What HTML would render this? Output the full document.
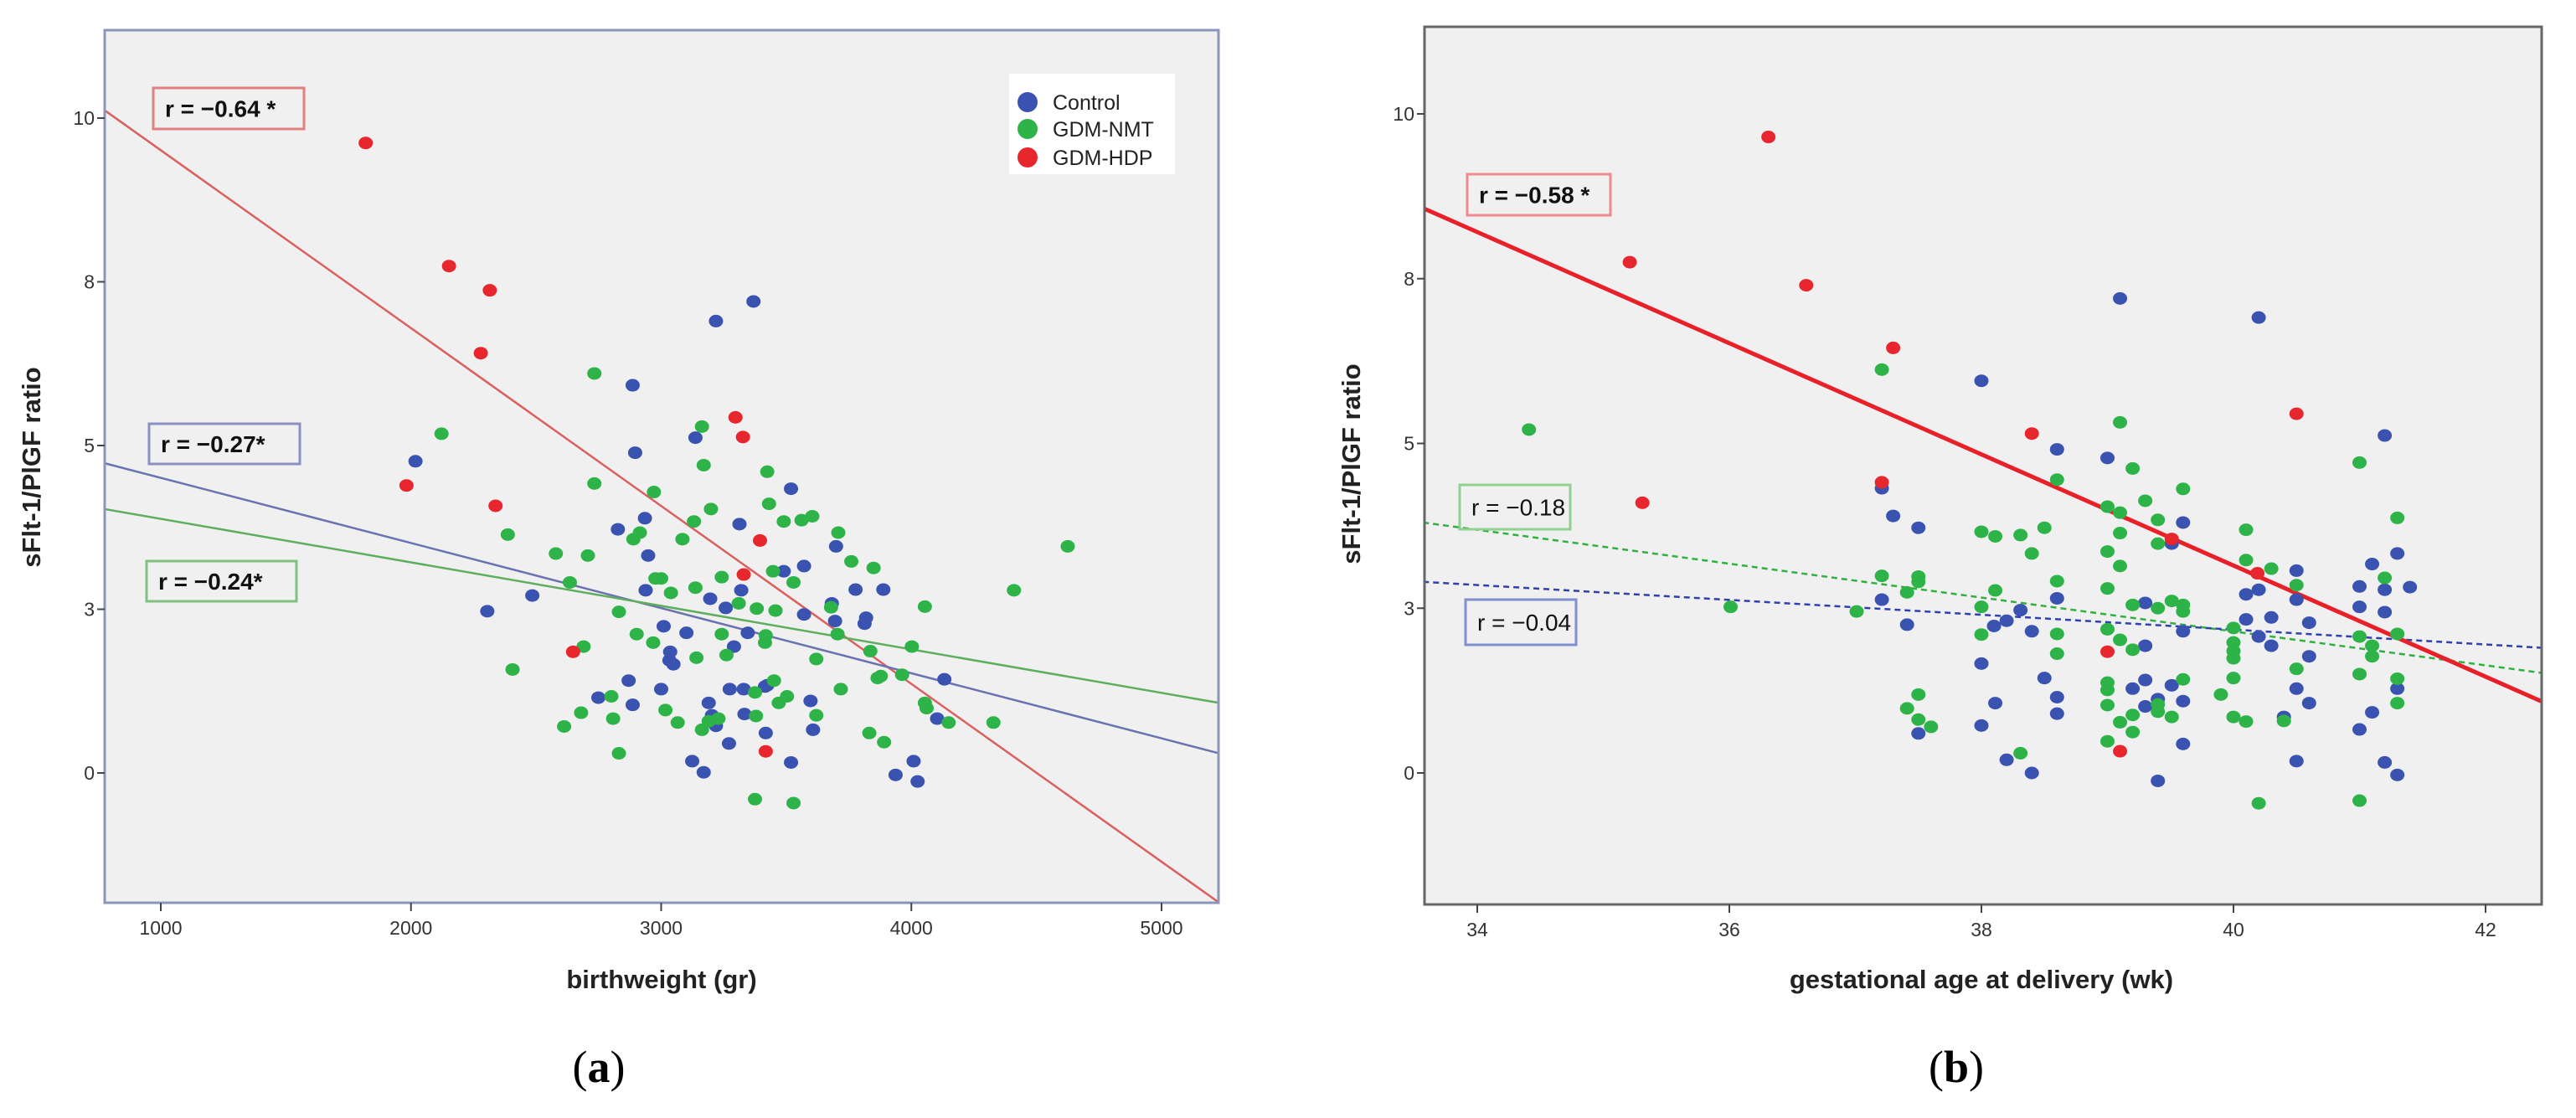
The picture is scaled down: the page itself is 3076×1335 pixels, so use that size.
<!DOCTYPE html>
<html><head><meta charset="utf-8">
<style>
html,body{margin:0;padding:0;background:#fff;}
svg{display:block;}
text{font-family:"Liberation Sans",Arial,sans-serif;}
</style></head>
<body>
<svg id="fig" width="3076" height="1335" viewBox="0 0 3076 1335" xmlns="http://www.w3.org/2000/svg">
</svg>
<script>
// ---------- Panel A data ----------
const aControlX=[2018,2305,2485,2886,2896,2827,2935,2948,2938,2870,2749,2886,3000,3010,3036,3049,3101,3137,3219,3369,3196,3258,3313,3320,3291,3346,3124,3170,3271,3274,3330,3219,3333,3415,3418,3519,3571,3571,3597,3607,3519,3699,3682,3695,3777,3813,3888,3819,3937,4009,4025,4103,4132,3190,3203,3033,3490,3424];
const aControlY=[4.76,2.47,2.71,5.92,4.89,3.72,3.89,3.32,2.79,1.41,1.15,1.04,1.28,2.24,1.85,1.66,2.14,5.12,6.90,7.20,2.66,2.52,3.80,2.79,1.93,2.14,0.18,0.01,0.45,1.28,1.28,0.72,0.90,1.32,0.61,4.34,3.16,2.42,1.10,0.66,0.16,3.46,2.59,2.32,2.80,2.28,2.80,2.37,-0.03,0.18,-0.13,0.83,1.43,1.07,0.88,1.72,3.08,1.34];
const aNmtX=[2122,2387,2406,2579,2635,2707,2733,2733,2690,2680,2612,2801,2808,2831,2831,2902,2889,2915,2971,2977,3000,2968,3017,3066,3039,3085,3131,3163,3170,3199,3137,3141,3242,3242,3261,3190,3229,3310,3382,3457,3431,3424,3447,3490,3561,3604,3529,3418,3415,3379,3375,3375,3451,3470,3503,3529,3620,3679,3705,3708,3760,3849,3836,3865,3878,3832,3891,3963,4002,4054,4061,4149,4328,4054,4410,4625,3620,3718,3163];
const aNmtY=[5.18,3.64,1.58,3.35,2.91,3.32,4.42,6.10,1.93,0.92,0.71,1.17,0.83,0.30,2.46,2.12,3.57,3.67,4.29,2.97,2.97,1.99,0.96,0.77,2.75,3.57,3.84,5.29,4.70,4.03,2.83,1.76,2.99,2.12,1.80,0.79,0.83,2.59,2.51,2.48,4.11,4.60,3.08,3.84,3.86,3.92,2.91,2.10,1.99,0.87,1.23,-0.40,1.41,1.07,1.17,-0.46,1.74,2.53,2.12,3.67,3.23,3.13,1.86,1.45,1.48,0.61,0.47,1.50,1.93,1.07,0.99,0.77,0.77,2.54,2.79,3.46,0.88,1.28,0.66];
const aHdpX=[1819,2152,2315,2279,1982,2338,2648,3297,3327,3395,3330,3418];
const aHdpY=[9.62,7.74,7.37,6.41,4.39,4.08,1.85,5.43,5.13,3.55,3.03,0.33];
const aFitHdp=[775,10.12,5230,-1.98];
const aFitControl=[775,4.73,5230,0.30];
const aFitNmt=[775,4.03,5230,1.07];
const aXTicks=[1000,2000,3000,4000,5000];
const aXTickLabels=["1000","2000","3000","4000","5000"];
// ---------- Panel B data ----------
const bControlX=[37.21,37.30,37.50,37.21,37.41,37.50,38.00,38.00,38.00,38.10,38.20,38.31,38.11,38.20,38.40,38.40,38.50,38.60,38.60,38.60,38.60,39.00,39.10,39.30,39.30,39.30,39.20,39.30,39.40,39.40,39.51,39.51,39.60,39.60,39.60,39.60,40.10,40.10,40.20,40.20,40.20,40.30,40.30,40.50,40.50,40.50,40.50,40.60,40.60,40.60,40.40,41.00,41.00,41.00,41.10,41.10,41.20,41.20,41.20,41.20,41.30,41.30,41.30,41.40];
const bControlY=[4.32,3.90,3.72,2.63,2.25,0.60,5.95,1.66,0.72,2.23,2.31,2.47,1.06,0.20,2.15,0.00,1.44,4.91,2.65,1.15,0.90,4.78,7.20,2.58,1.93,1.41,1.28,1.01,1.12,-0.12,3.48,1.33,3.80,2.15,1.09,0.44,2.71,2.33,6.91,2.78,2.07,2.36,1.93,3.07,2.63,1.28,0.18,2.28,1.77,1.06,0.85,2.83,2.52,0.66,3.17,0.92,5.12,2.78,2.44,0.16,3.33,1.28,-0.03,2.82];
const bNmtX=[34.41,36.01,37.01,37.21,37.21,37.41,37.50,37.50,37.50,37.41,37.50,37.60,38.00,38.11,38.00,38.11,38.00,38.31,38.40,38.50,38.60,38.60,38.60,38.60,38.31,39.00,39.10,39.10,39.00,39.10,39.00,39.10,39.20,39.30,39.40,39.40,39.60,39.20,39.40,39.51,39.60,39.60,39.00,39.10,39.20,39.00,39.00,39.00,39.10,39.20,39.20,39.00,39.40,39.40,39.51,39.60,39.90,40.00,40.10,40.00,40.00,40.00,40.00,40.00,40.10,40.10,40.30,40.50,40.50,40.40,41.00,41.00,41.00,41.10,41.10,41.20,41.30,41.30,41.30,41.30,40.20,41.00];
const bNmtY=[5.21,2.52,2.45,6.12,2.99,2.74,2.98,2.90,1.19,0.98,0.81,0.70,3.66,3.59,2.52,2.77,2.10,3.61,3.33,3.72,4.45,2.91,2.11,1.81,0.30,4.04,3.95,3.64,3.36,3.14,2.80,5.32,4.62,4.13,3.84,3.48,4.31,2.55,2.50,2.61,2.55,2.45,2.18,2.02,1.87,1.37,1.26,1.03,0.77,0.88,0.62,0.48,1.04,0.93,0.85,1.42,1.19,0.85,0.78,2.20,1.98,1.85,1.74,1.44,3.69,3.23,3.10,2.85,1.58,0.79,4.71,2.07,1.50,1.93,1.77,2.96,3.87,2.11,1.43,1.06,-0.46,-0.42];
const bHdpX=[36.31,35.21,36.61,37.30,35.31,37.21,38.40,40.50,39.51,40.19,39.00,39.10];
const bHdpY=[9.65,7.75,7.40,6.45,4.10,4.41,5.15,5.45,3.55,3.03,1.84,0.33];
const bFitHdp=[33.57,8.57,42.44,1.09];
const bFitNmt=[33.57,3.80,42.44,1.52];
const bFitControl=[33.57,2.90,42.44,1.90];
const bXTicks=[34,36,38,40,42];
const bXTickLabels=["34","36","38","40","42"];
// ---------- shared ----------
const yTicks=[0,2.5,5,7.5,10];
const yTickLabels=["0","3","5","8","10"];

const NS="http://www.w3.org/2000/svg";
const svg=document.getElementById('fig');
function mk(tag,attrs,parent){const e=document.createElementNS(NS,tag);for(const k in attrs)e.setAttribute(k,attrs[k]);(parent||svg).appendChild(e);return e;}

const C_BLUE="#3a52b0",C_GREEN="#2eb349",C_RED="#e8262d";

function panel(cfg){
  const g=mk('g',{});
  
  
  const L=cfg.left,R=cfg.right,T=cfg.top,B=cfg.bottom;
  const sx=v=>cfg.xpx0+(v-cfg.xv0)*(cfg.xpx1-cfg.xpx0)/(cfg.xv1-cfg.xv0);
  const sy=v=>cfg.y0px+(v)*(cfg.y10px-cfg.y0px)/10;
  const bg=mk('rect',{x:L,y:T,width:R-L,height:B-T,fill:"#f0f0f0"},g);
  
  
  const clip=mk('clipPath',{id:cfg.name+'-clip'},g);
  mk('rect',{x:L,y:T,width:R-L,height:B-T},clip);
  const pg=mk('g',{'clip-path':'url(#'+cfg.name+'-clip)'},g);
  // fit lines
  cfg.fits.forEach(f=>{
    const ln=mk('line',{x1:sx(f.d[0]),y1:sy(f.d[1]),x2:sx(f.d[2]),y2:sy(f.d[3]),stroke:f.c,'stroke-width':f.w,'stroke-dasharray':f.dash||'none'},pg);
    
    
  });
  // points
  cfg.series.forEach(s=>{
    s.x.forEach((v,i)=>{
      const c=mk('ellipse',{cx:sx(v),cy:sy(s.y[i]),rx:8.5,ry:7.5,fill:s.c},pg);
      
      
    });
  });
  // border
  const br=mk('rect',{x:L,y:T,width:R-L,height:B-T,fill:"none",stroke:cfg.border,'stroke-width':3},g);
  
  
  // y ticks
  yTicks.forEach((v,i)=>{
    mk('line',{x1:L-9,x2:L,y1:sy(v),y2:sy(v),stroke:"#444",'stroke-width':2},g);
    const t=mk('text',{x:L-12,y:sy(v)+8,'text-anchor':'end','font-size':23,fill:"#333"},g);
    t.textContent=yTickLabels[i];
    
    
  });
  cfg.xticks.forEach((v,i)=>{
    mk('line',{x1:sx(v),x2:sx(v),y1:B,y2:B+10,stroke:"#444",'stroke-width':2},g);
    const t=mk('text',{x:sx(v),y:B+38,'text-anchor':'middle','font-size':23,fill:"#333"},g);
    t.textContent=cfg.xlabels[i];
    
    
  });
  const xt=mk('text',{x:cfg.xtitleX,y:1180,'text-anchor':'middle','font-size':31,'font-weight':'bold',fill:"#222"},g);
  xt.textContent=cfg.xtitle;
  
  
  const yt=mk('text',{x:0,y:0,'text-anchor':'middle','font-size':31,'font-weight':'bold',fill:"#222",transform:`translate(${cfg.ytitleX},${cfg.ytitleY}) rotate(-90)`},g);
  yt.textContent="sFlt-1/PlGF ratio";
  
  
  cfg.notes.forEach(n=>{
    const ng=mk('g',{},g);
    
    
    mk('rect',{x:n.x,y:n.y,width:n.w,height:n.h,fill:"none",stroke:n.c,'stroke-width':3},ng);
    const t=mk('text',{x:n.x+14,y:n.y+n.h/2+10,'font-size':28,'font-weight':n.b?'bold':'normal',fill:"#111"},ng);
    t.textContent=n.t;
  });
  const pl=mk('text',{x:cfg.labX,y:1292,'text-anchor':'middle','font-size':54,fill:"#000",'font-family':'"Liberation Serif",serif'},g);
  pl.setAttribute('style','font-family:"Liberation Serif",serif');
  pl.innerHTML='(<tspan font-weight="bold">'+cfg.lab+'</tspan>)';
  
  
  return g;
}

panel({name:'panel-a',left:125,right:1455,top:36,bottom:1078,border:"#8c96b8",
  xv0:1000,xv1:5000,xpx0:192,xpx1:1387,y0px:923,y10px:141,
  xticks:aXTicks,xlabels:aXTickLabels,xtitle:"birthweight (gr)",xtitleX:790,ytitleX:48,ytitleY:558,labX:715,lab:"a",
  fits:[{d:aFitHdp,c:"#d9605f",w:2.5,n:'fit-line-gdm-hdp'},{d:aFitControl,c:"#6a72b0",w:2.5,n:'fit-line-control'},{d:aFitNmt,c:"#5fae5f",w:2.5,n:'fit-line-gdm-nmt'}],
  series:[{x:aControlX,y:aControlY,c:C_BLUE,n:'control'},{x:aNmtX,y:aNmtY,c:C_GREEN,n:'gdm-nmt'},{x:aHdpX,y:aHdpY,c:C_RED,n:'gdm-hdp'}],
  notes:[{x:183,y:105,w:180,h:49,c:"#e08080",t:"r = \u22120.64 *",b:true,n:'annotation-r-hdp'},
         {x:178,y:506,w:180,h:48,c:"#8a90c0",t:"r = \u22120.27*",b:true,n:'annotation-r-control'},
         {x:175,y:670,w:179,h:48,c:"#80c080",t:"r = \u22120.24*",b:true,n:'annotation-r-nmt'}]
});
panel({name:'panel-b',left:1701,right:3035,top:32,bottom:1080,border:"#666",
  xv0:34,xv1:42,xpx0:1764,xpx1:2968,y0px:923,y10px:136,
  xticks:bXTicks,xlabels:bXTickLabels,xtitle:"gestational age at delivery (wk)",xtitleX:2366,ytitleX:1624,ytitleY:554,labX:2336,lab:"b",
  fits:[{d:bFitNmt,c:"#30b040",w:2.5,dash:"7,5",n:'fit-line-gdm-nmt'},{d:bFitControl,c:"#3040b0",w:2.5,dash:"7,5",n:'fit-line-control'},{d:bFitHdp,c:"#e8202a",w:5,n:'fit-line-gdm-hdp'}],
  series:[{x:bControlX,y:bControlY,c:C_BLUE,n:'control'},{x:bNmtX,y:bNmtY,c:C_GREEN,n:'gdm-nmt'},{x:bHdpX,y:bHdpY,c:C_RED,n:'gdm-hdp'}],
  notes:[{x:1752,y:208,w:171,h:49,c:"#f08a90",t:"r = \u22120.58 *",b:true,n:'annotation-r-hdp'},
         {x:1743,y:579,w:132,h:53,c:"#90d090",t:"r = \u22120.18",b:false,n:'annotation-r-nmt'},
         {x:1750,y:716,w:132,h:54,c:"#8090d0",t:"r = \u22120.04",b:false,n:'annotation-r-control'}]
});

// legend (panel a)
const lg=mk('g',{});


mk('rect',{x:1205,y:88,width:198,height:120,fill:"#fff"},lg);
const legNames=["Control","GDM-NMT","GDM-HDP"];
const legColors=[C_BLUE,C_GREEN,C_RED];
const legY=[122,154,188];
legNames.forEach((nm,i)=>{
  const e=mk('g',{},lg);
  
  
  mk('circle',{cx:1227,cy:legY[i],r:12,fill:legColors[i]},e);
  const t=mk('text',{x:1257,y:legY[i]+9,'font-size':25,fill:"#222"},e);
  t.textContent=nm;
});
</script>
</body></html>
